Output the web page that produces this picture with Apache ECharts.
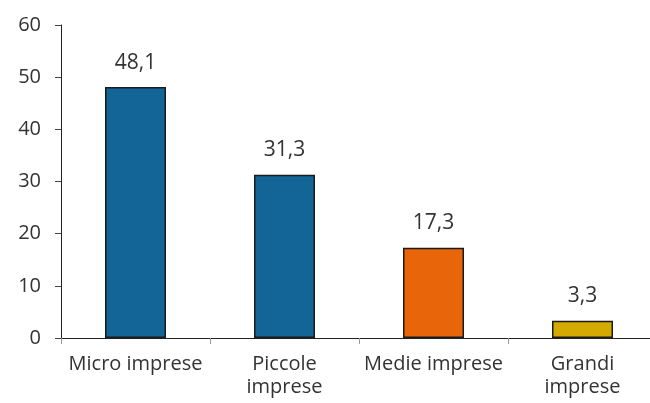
<!DOCTYPE html>
<html>
<head>
<meta charset="utf-8">
<script src="https://cdn.jsdelivr.net/npm/echarts@6/dist/echarts.min.js"></script>
<style>
  html, body { margin: 0; padding: 0; background: #fff; overflow: hidden; }
  /* the x axis runs a little past the right edge, as in the original */
  #chart { width: 657px; height: 403px; }
</style>
</head>
<body>
<div id="chart"></div>
<script>
// categorie e valori (%)
var categories = ["Micro imprese", "Piccole\nimprese", "Medie imprese", "Grandi\nimprese"];
var values = [48.1, 31.3, 17.3, 3.3];
var barColors = ["#136497", "#136497", "#e8650a", "#d5aa00"];
var yTicks = [0, 10, 20, 30, 40, 50, 60];

var myChart = echarts.init(document.getElementById("chart"));
var font = "'Open Sans', 'Noto Sans', sans-serif";

var option = {
  animation: false,
  grid: {
    left: 61,
    right: 0,
    top: 25,
    bottom: 65,
  },
  xAxis: {
    type: "category",
    data: categories,
    axisLine: {
      lineStyle: { color: "#222", width: 1 },
    },
    axisTick: {
      show: true,
      length: 6,
      lineStyle: { color: "#999" },
    },
    axisLabel: {
      interval: 0,
      margin: 15,
      color: "#333",
      fontFamily: font,
      fontSize: 20,
      lineHeight: 23,
    },
  },
  yAxis: {
    type: "value",
    min: yTicks[0],
    max: yTicks[yTicks.length - 1],
    interval: 10,
    axisLine: {
      show: true,
      lineStyle: { color: "#222", width: 1 },
    },
    axisTick: {
      show: true,
      length: 6,
      lineStyle: { color: "#444" },
    },
    splitLine: { show: false },
    axisLabel: {
      margin: 20,
      color: "#333",
      fontFamily: font,
      fontSize: 20,
    },
  },
  series: [
    {
      type: "bar",
      barWidth: 61,
      data: values.map(function (v, i) {
        return { value: v, itemStyle: { color: barColors[i] } };
      }),
      itemStyle: {
        borderColor: "#1a1a1a",
        borderWidth: 1.5,
      },
      label: {
        show: true,
        position: "top",
        distance: 14,
        color: "#333",
        fontFamily: font,
        fontSize: 21,
        formatter: function (p) {
          return String(p.value).replace(".", ",");
        },
      },
    },
  ],
};

myChart.setOption(option);
</script>
</body>
</html>
